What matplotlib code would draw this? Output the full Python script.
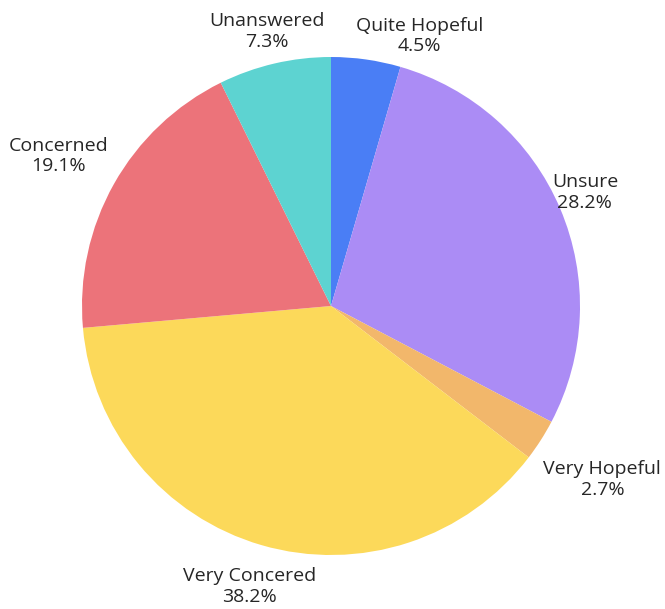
import numpy as np
import matplotlib.pyplot as plt

labels = ["Quite Hopeful", "Unsure", "Very Hopeful", "Very Concered", "Concerned", "Unanswered"]
values = [4.5, 28.2, 2.7, 38.2, 19.1, 7.3]
colors = ["#4a7ef5", "#ab8cf5", "#f2b76b", "#fcd95a", "#ec737a", "#5dd3d1"]

# label placement (radius in px from centre, angle tweak in degrees)
label_r = [284, 278, 322, 292, 311, 282]
label_da = [-10, 1, 0, 0, 0.5, 0]

plt.rcParams['font.family'] = ['Open Sans', 'DejaVu Sans']

fig = plt.figure(figsize=(6.65, 6.09), dpi=100)
ax = fig.add_axes([0, 0, 1, 1])

cx, cy, R = 331, 303, 249
wedges, _ = ax.pie(values, colors=colors, startangle=90, counterclock=False,
                   radius=R, center=(cx, cy), frame=True,
                   wedgeprops=dict(linewidth=0))
ax.set_xlim(0, 665)
ax.set_ylim(0, 609)
ax.set_aspect('equal')
ax.axis('off')

for w, lab, v, r, da in zip(wedges, labels, values, label_r, label_da):
    a = np.deg2rad((w.theta1 + w.theta2) / 2 + da)
    x = cx + r * np.cos(a)
    y = cy + r * np.sin(a)
    ax.text(x, y, f"{lab}\n{v}%", ha='center', va='center', fontsize=14,
            color='#262626', linespacing=1.2)

fig.savefig("out.png", dpi=100, facecolor='white')
